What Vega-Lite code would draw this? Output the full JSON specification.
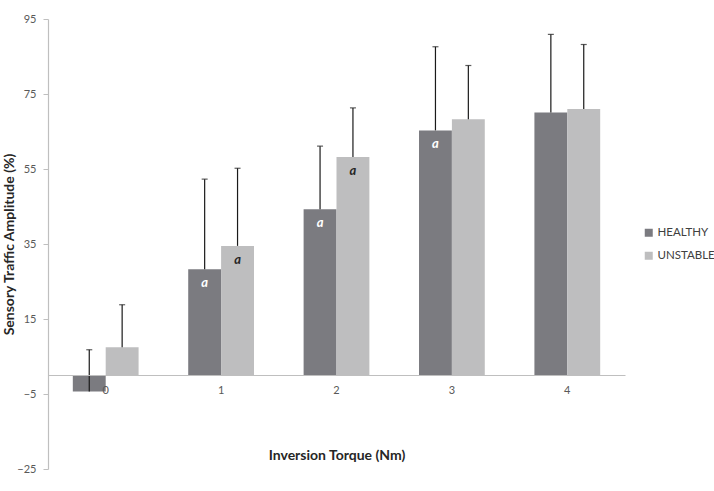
{
  "$schema": "https://vega.github.io/schema/vega-lite/v6.json",
  "autosize": "none",
  "padding": {"left": 48, "top": 19, "right": 89, "bottom": 22},
  "width": 577,
  "height": 450,
  "background": "white",
  "config": {"view": {"stroke": null}, "font": "Lato"},
  "data": {"values": [
    {"torque": "0", "group": "HEALTHY", "value": -4.3, "errTop": 6.8, "label": ""},
    {"torque": "0", "group": "UNSTABLE", "value": 7.45, "errTop": 18.8, "label": ""},
    {"torque": "1", "group": "HEALTHY", "value": 28.3, "errTop": 52.3, "label": "a"},
    {"torque": "1", "group": "UNSTABLE", "value": 34.5, "errTop": 55.2, "label": "a"},
    {"torque": "2", "group": "HEALTHY", "value": 44.3, "errTop": 61.1, "label": "a"},
    {"torque": "2", "group": "UNSTABLE", "value": 58.2, "errTop": 71.3, "label": "a"},
    {"torque": "3", "group": "HEALTHY", "value": 65.3, "errTop": 87.6, "label": "a"},
    {"torque": "3", "group": "UNSTABLE", "value": 68.3, "errTop": 82.6, "label": ""},
    {"torque": "4", "group": "HEALTHY", "value": 70.1, "errTop": 90.9, "label": ""},
    {"torque": "4", "group": "UNSTABLE", "value": 71.0, "errTop": 88.2, "label": ""}
  ]},
  "encoding": {
    "x": {
      "field": "torque", "type": "nominal",
      "scale": {"paddingInner": 0.43, "paddingOuter": 0.215},
      "axis": {
        "title": "Inversion Torque (Nm)", "titleFontSize": 14, "titleFontWeight": "bold", "titleColor": "#262626",
        "titlePadding": 53, "offset": -94, "labelAngle": 0, "ticks": false, "labelPadding": 9,
        "labelFontSize": 11, "labelColor": "#595959", "domainColor": "#bfbfbf", "domainWidth": 1.2, "zindex": 1
      }
    },
    "xOffset": {"field": "group", "type": "nominal", "scale": {"paddingInner": 0, "paddingOuter": 0}}
  },
  "layer": [
    {
      "mark": {"type": "bar"},
      "encoding": {
        "y": {
          "field": "value", "type": "quantitative",
          "scale": {"domain": [-25, 95], "nice": false, "zero": false},
          "axis": {
            "values": [-25, -5, 15, 35, 55, 75, 95], "grid": false, "title": "Sensory Traffic Amplitude (%)",
            "titleFontSize": 14, "titleFontWeight": "bold", "titleColor": "#262626",
            "titleX": -39, "titleBaseline": "middle",
            "labelFontSize": 11, "labelColor": "#595959", "tickColor": "#bfbfbf", "tickSize": 5,
            "domainColor": "#bfbfbf", "domainWidth": 1.2, "labelPadding": 7
          }
        },
        "y2": {"datum": 0},
        "color": {
          "field": "group", "type": "nominal",
          "scale": {"domain": ["HEALTHY", "UNSTABLE"], "range": ["#7b7b80", "#bebebf"]},
          "legend": {
            "title": null, "orient": "none", "legendX": 595, "legendY": 208, "symbolType": "square",
            "symbolSize": 64, "symbolStrokeWidth": 0, "labelFontSize": 11.5, "labelColor": "#404040",
            "rowPadding": 10, "labelOffset": 3
          }
        }
      }
    },
    {
      "mark": {"type": "rule", "color": "#1a1a1a", "strokeWidth": 1.2},
      "encoding": {
        "y": {"field": "value", "type": "quantitative"},
        "y2": {"field": "errTop"}
      }
    },
    {
      "mark": {"type": "tick", "color": "#1a1a1a", "thickness": 1.2, "size": 6, "orient": "horizontal"},
      "encoding": {
        "y": {"field": "errTop", "type": "quantitative"}
      }
    },
    {
      "mark": {"type": "text", "fontStyle": "italic", "fontWeight": "bold", "fontSize": 13, "dy": 14},
      "encoding": {
        "y": {"field": "value", "type": "quantitative"},
        "text": {"field": "label"},
        "color": {
          "condition": {"test": "datum.group === 'HEALTHY'", "value": "#ffffff"},
          "value": "#262626"
        }
      }
    }
  ]
}
